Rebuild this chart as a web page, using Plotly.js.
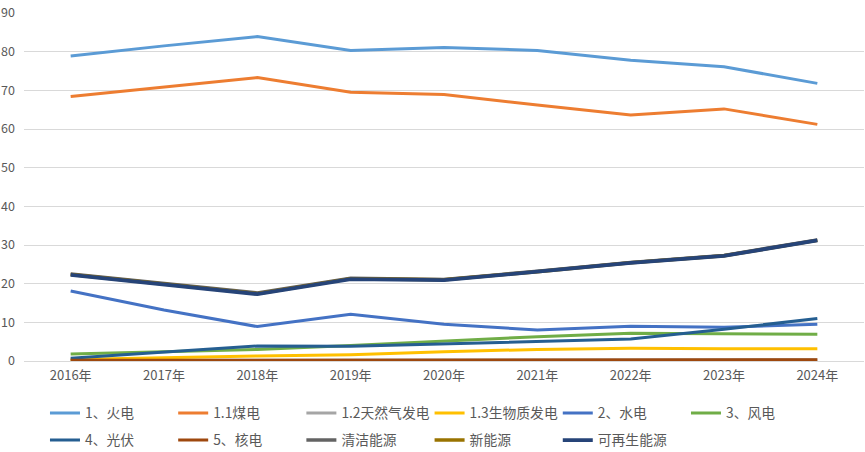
<!DOCTYPE html>
<html>
<head>
<meta charset="utf-8">
<script src="https://cdn.plot.ly/plotly-3.0.1.min.js"></script>
<style>html,body{margin:0;padding:0;background:#fff;}#chart{width:865px;height:452px;}</style>
</head>
<body>
<div id="chart"></div>
<script>
const years = ["2016年","2017年","2018年","2019年","2020年","2021年","2022年","2023年","2024年"];
const thermal   = [78.9, 81.5, 83.9, 80.3, 81.1, 80.3, 77.8, 76.1, 71.8];
const coal      = [68.4, 70.9, 73.3, 69.5, 68.9, 66.2, 63.6, 65.2, 61.2];
const gas       = [0.2, 0.2, 0.2, 0.2, 0.3, 0.3, 0.3, 0.3, 0.3];
const biomass   = [0.4, 0.9, 1.3, 1.6, 2.4, 3.0, 3.3, 3.2, 3.2];
const hydro     = [18.1, 13.2, 8.9, 12.1, 9.5, 8.0, 9.0, 8.7, 9.5];
const wind      = [1.8, 2.4, 3.0, 4.0, 5.2, 6.3, 7.2, 7.0, 6.9];
const solar     = [0.7, 2.3, 3.9, 3.8, 4.4, 5.0, 5.7, 8.2, 11.0];
const nuclear   = [0.2, 0.2, 0.2, 0.2, 0.3, 0.3, 0.3, 0.3, 0.3];
const clean     = [22.5, 20.1, 17.6, 21.4, 21.1, 23.2, 25.5, 27.3, 31.3];
const newEnergy = [22.4, 20.0, 17.4, 21.3, 21.0, 23.1, 25.4, 27.2, 31.2];
const renewable = [22.3, 19.9, 17.3, 21.2, 20.9, 23.1, 25.4, 27.2, 31.2];

const names = ["1、火电","1.1煤电","1.2天然气发电","1.3生物质发电","2、水电","3、风电","4、光伏","5、核电","清洁能源","新能源","可再生能源"];
const series = [thermal, coal, gas, biomass, hydro, wind, solar, nuclear, clean, newEnergy, renewable];
const colors = ["#5B9BD5","#ED7D31","#A5A5A5","#FFC000","#4472C4","#70AD47","#255E91","#9E480E","#636363","#997300","#264478"];
const widths = [3,3,3,3,3,3,3,3,3.5,3.5,3.8];

const traces = series.map((s,i)=>({
  type:'scatter', mode:'lines', x: years, y: s, name: names[i],
  legend: i < 6 ? 'legend' : 'legend2',
  line:{color: colors[i], width: widths[i]}
}));

const xFont = {family:'"Noto Sans CJK SC", "Noto Sans", sans-serif', size:13, color:'#595959'};
const yFont = {family:'"Noto Sans CJK SC", "Noto Sans", sans-serif', size:12.5, color:'#595959'};
const legFont = {family:'"Noto Sans CJK SC", sans-serif', size:13.8, color:'#595959'};
const legBase = {orientation:'h', xref:'container', yref:'container', x:0.052, xanchor:'left', yanchor:'top',
    entrywidth:83.2, entrywidthmode:'pixels', traceorder:'normal',
    font: legFont, itemwidth:30, bgcolor:'rgba(0,0,0,0)'};
const layout = {
  width:865, height:452,
  margin:{l:24, r:1, t:13, b:91, pad:0},
  paper_bgcolor:'#fff', plot_bgcolor:'#fff',
  font: xFont,
  showlegend:true,
  xaxis:{type:'category', range:[-0.5,8.5], showgrid:false, zeroline:false, showline:false, ticks:'', tickfont:xFont, ticklabelstandoff:5, fixedrange:true},
  yaxis:{range:[0,90], dtick:10, tick0:0, showgrid:true, gridcolor:'#D9D9D9', gridwidth:1, zeroline:true, zerolinecolor:'#D9D9D9', zerolinewidth:1, showline:false, ticks:'', tickfont:yFont, ticklabelstandoff:8, fixedrange:true},
  legend: Object.assign({}, legBase, {y:0.1205}),
  legend2: Object.assign({}, legBase, {y:0.0607})
};
Plotly.newPlot('chart', traces, layout, {displayModeBar:false, staticPlot:true});
</script>
</body>
</html>
